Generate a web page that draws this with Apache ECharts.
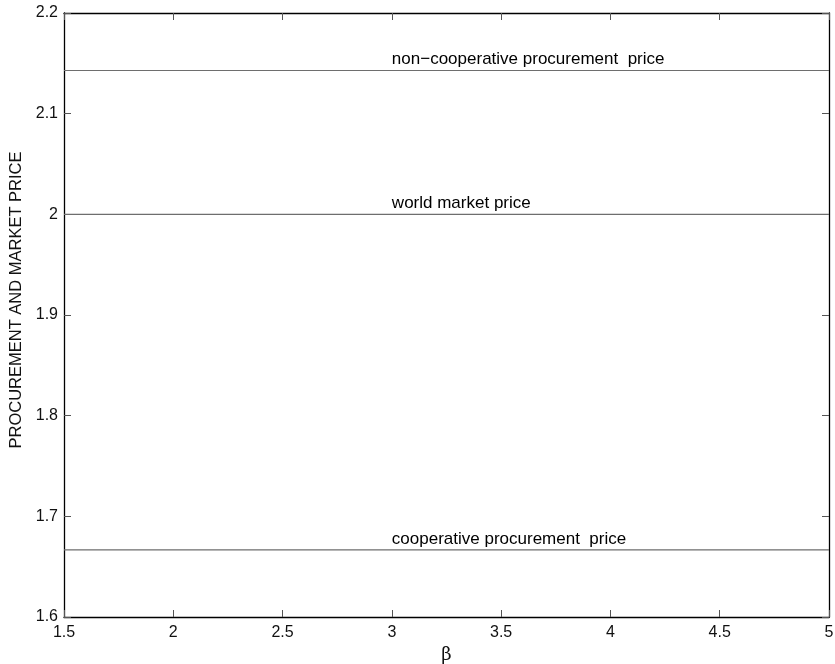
<!DOCTYPE html>
<html>
<head>
<meta charset="utf-8">
<script src="https://cdn.jsdelivr.net/npm/echarts@6/dist/echarts.min.js"></script>
<style>html,body{margin:0;padding:0;background:#fff}#c{width:835px;height:664px}</style>
</head>
<body>
<div id="c"></div>
<script>
const betaValues = [1.5, 3, 5];
const nonCoopPrice = [2.142857, 2.142857, 2.142857];
const worldPrice = [2.0, 2.0, 2.0];
const coopPrice = [1.666667, 1.666667, 1.666667];
const seriesNames = ['non\u2212cooperative procurement  price', 'world market price', 'cooperative procurement  price'];
const labelBeta = 3;
const xTicks = [1.5, 2, 2.5, 3, 3.5, 4, 4.5, 5];
const yTicks = [1.6, 1.7, 1.8, 1.9, 2, 2.1, 2.2];

const font = 'Liberation Sans, Arial, Helvetica, sans-serif';
const allPrices = [nonCoopPrice, worldPrice, coopPrice];
function mkLine(name, vals) {
  return {
    type: 'line', name: name, symbol: 'none', silent: true,
    lineStyle: { color: '#6e6e6e', width: 1.2 },
    data: betaValues.map((b, i) => [b, vals[i]])
  };
}
const labelSeries = {
  type: 'scatter', silent: true, symbol: 'circle', symbolSize: 1,
  itemStyle: { color: 'rgba(0,0,0,0)' },
  labelLayout: { hideOverlap: false },
  label: {
    show: true, position: 'top', align: 'left', distance: 2,
    color: '#000', opacity: 1, textBorderWidth: 0, fontSize: 17, fontFamily: font,
    formatter: p => seriesNames[p.dataIndex]
  },
  data: allPrices.map(arr => [labelBeta, arr[1]])
};
const axisCommon = {
  axisLine: { show: true, onZero: false, lineStyle: { color: '#000', width: 1.3 } },
  axisTick: { show: true, inside: true, length: 7, lineStyle: { color: '#555' } },
  splitLine: { show: false }
};
const chart = echarts.init(document.getElementById('c'), null, { renderer: 'canvas' });
chart.setOption({
  animation: false,
  backgroundColor: '#fff',
  grid: { left: 64, right: 6, top: 13, bottom: 47, containLabel: false, outerBoundsMode: 'none' },
  xAxis: [
    Object.assign({}, axisCommon, {
      type: 'value', min: xTicks[0], max: xTicks[xTicks.length - 1], interval: 0.5,
      name: '\u03b2', nameLocation: 'middle', nameGap: 24,
      nameTextStyle: { fontFamily: 'DejaVu Serif, Liberation Serif, serif', fontSize: 18, color: '#111' },
      axisLabel: { color: '#111', fontSize: 16, fontFamily: font, margin: 8 }
    }),
    Object.assign({}, axisCommon, {
      type: 'value', position: 'top', min: xTicks[0], max: xTicks[xTicks.length - 1], interval: 0.5,
      axisLabel: { show: false }
    })
  ],
  yAxis: [
    Object.assign({}, axisCommon, {
      type: 'value', min: yTicks[0], max: yTicks[yTicks.length - 1], interval: 0.1,
      name: 'PROCUREMENT AND MARKET PRICE', nameLocation: 'middle', nameGap: 37,
      nameTextStyle: { fontFamily: font, fontSize: 16.5, color: '#111', padding: [0, 0, 0, 30] },
      axisLabel: { color: '#111', fontSize: 16, fontFamily: font, margin: 6,
        formatter: v => String(Math.round(v * 10) / 10) }
    }),
    Object.assign({}, axisCommon, {
      type: 'value', position: 'right', min: yTicks[0], max: yTicks[yTicks.length - 1], interval: 0.1,
      axisLabel: { show: false }
    })
  ],
  series: [
    mkLine(seriesNames[0], nonCoopPrice),
    mkLine(seriesNames[1], worldPrice),
    mkLine(seriesNames[2], coopPrice),
    labelSeries
  ]
});
</script>
</body>
</html>
